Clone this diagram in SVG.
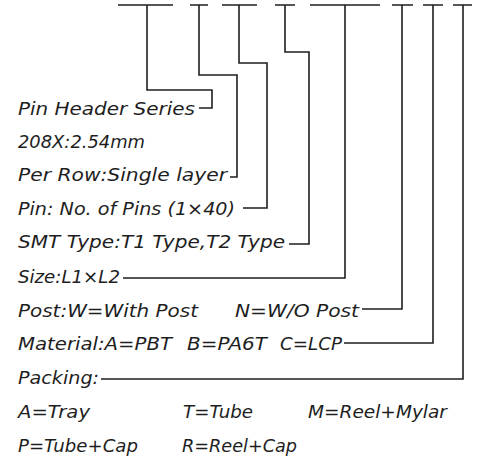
<svg xmlns="http://www.w3.org/2000/svg" width="490" height="458" viewBox="0 0 490 458">
<style>
.c{fill:none;stroke:#1e1e1e;stroke-width:1.6}
.t{font-family:"DejaVu Sans",sans-serif;font-style:italic;font-size:18.5px;fill:#1e1e1e}
</style>
<rect width="490" height="458" fill="#fff"/>
<g id="connectors" class="c">
<path d="M118,5H173M147,5V90H212V108H199"/>
<path d="M190,5H208M199,5V75H237V177H230"/>
<path d="M222,5H257M239,5V63H267V208H243"/>
<path d="M275,5H295M285,5V52H309V244H289"/>
<path d="M310,5H380M345,5V278H123"/>
<path d="M392,5H413M402,5V309H362"/>
<path d="M423,5H443M433,5V343H344"/>
<path d="M453,5H472M463,5V379H101"/>
</g>
<g id="series"><text class="t" x="18" y="115" textLength="177" lengthAdjust="spacingAndGlyphs">Pin Header Series</text></g>
<g id="pitch"><text class="t" x="18" y="148" textLength="127" lengthAdjust="spacingAndGlyphs">208X:2.54mm</text></g>
<g id="row"><text class="t" x="18" y="181" textLength="209" lengthAdjust="spacingAndGlyphs">Per Row:Single layer</text></g>
<g id="pins"><text class="t" x="18" y="215" textLength="217" lengthAdjust="spacingAndGlyphs">Pin: No. of Pins (1×40)</text></g>
<g id="smt"><text class="t" x="18" y="248" textLength="267" lengthAdjust="spacingAndGlyphs">SMT Type:T1 Type,T2 Type</text></g>
<g id="size"><text class="t" x="18" y="283" textLength="102" lengthAdjust="spacingAndGlyphs">Size:L1×L2</text></g>
<g id="post">
<text class="t" x="18" y="317" textLength="180" lengthAdjust="spacingAndGlyphs">Post:W=With Post</text>
<text class="t" x="235" y="317" textLength="124" lengthAdjust="spacingAndGlyphs">N=W/O Post</text>
</g>
<g id="material">
<text class="t" x="18" y="350" textLength="154" lengthAdjust="spacingAndGlyphs">Material:A=PBT</text>
<text class="t" x="187" y="350" textLength="80" lengthAdjust="spacingAndGlyphs">B=PA6T</text>
<text class="t" x="280" y="350" textLength="62" lengthAdjust="spacingAndGlyphs">C=LCP</text>
</g>
<g id="packing">
<text class="t" x="18" y="384" textLength="81" lengthAdjust="spacingAndGlyphs">Packing:</text>
<text class="t" x="18" y="418" textLength="72" lengthAdjust="spacingAndGlyphs">A=Tray</text>
<text class="t" x="183" y="418" textLength="70" lengthAdjust="spacingAndGlyphs">T=Tube</text>
<text class="t" x="308" y="418" textLength="139" lengthAdjust="spacingAndGlyphs">M=Reel+Mylar</text>
<text class="t" x="18" y="452" textLength="120" lengthAdjust="spacingAndGlyphs">P=Tube+Cap</text>
<text class="t" x="182" y="452" textLength="115" lengthAdjust="spacingAndGlyphs">R=Reel+Cap</text>
</g>
</svg>
